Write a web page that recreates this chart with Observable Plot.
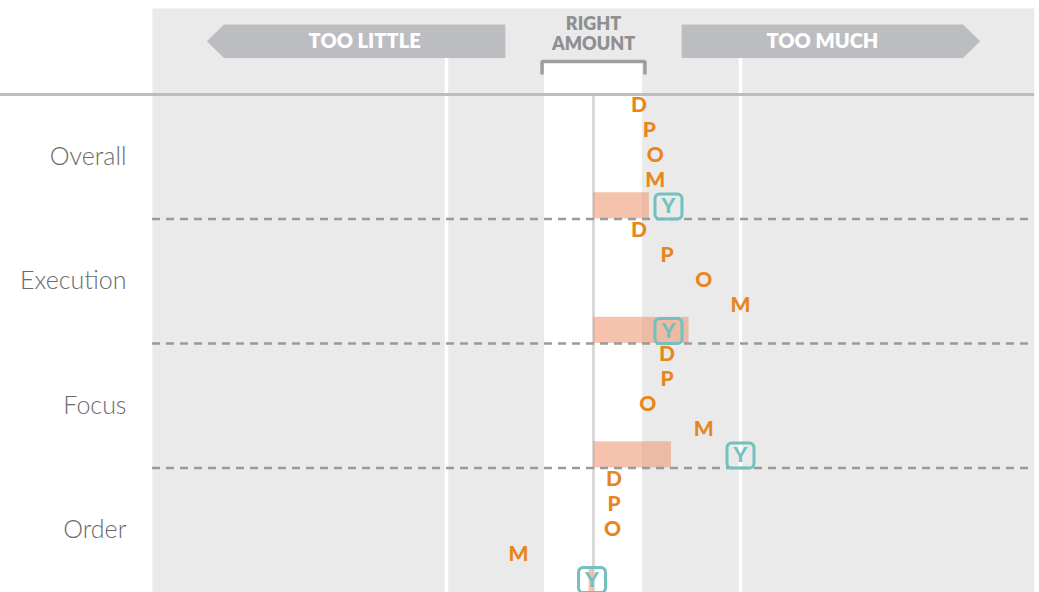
<!DOCTYPE html>
<html>
<head>
<meta charset="utf-8">
<script src="https://cdn.jsdelivr.net/npm/d3@7"></script>
<script src="https://cdn.jsdelivr.net/npm/@observablehq/plot@0.6"></script>
<style>
  body { margin: 0; background: #ffffff; }
  #chart svg { display: block; }
</style>
</head>
<body>
<div id="chart"></div>
<script>
// ---- Data ----
const categories = ["Overall", "Execution", "Focus", "Order"];
const respondents = ["D", "P", "O", "M"];
const valuesD = [0.31, 0.31, 0.50, 0.14];
const valuesP = [0.38, 0.50, 0.50, 0.14];
const valuesO = [0.42, 0.75, 0.37, 0.13];
const valuesM = [0.42, 1.00, 0.75, -0.51];
const valuesY = [0.51, 0.51, 1.00, -0.01];
const averageBar = [0.38, 0.65, 0.53, -0.03];
const zoneLabels = ["TOO LITTLE", "RIGHT", "AMOUNT", "TOO MUCH"];
const zoneFrom = [-2.63, -0.35, 0.60];
const zoneTo = [-0.60, 0.35, 2.63];
const guideTicks = [-1, 0, 1];
const rightBand = [-1 / 3, 1 / 3];

// ---- Build tables ----
const series = { D: valuesD, P: valuesP, O: valuesO, M: valuesM };
const letters = [];
categories.forEach((cat, i) => {
  respondents.forEach((who, k) => {
    letters.push({ cat, who, value: series[who][i], pos: i + (k + 0.45) / 5 });
  });
});
const you = categories.map((cat, i) => ({ cat, value: valuesY[i], pos: i + 0.9 }));
const bars = categories.map((cat, i) => ({ cat, value: averageBar[i], top: i + 0.79, bottom: i + 1 }));

// header geometry (in y units; 1 unit = one row)
const ARROW_TOP = -0.562, ARROW_BOT = -0.293, ARROW_MID = (ARROW_TOP + ARROW_BOT) / 2, HEAD = 0.116;
const arrows = [];
[[0, zoneLabels[0]], [2, zoneLabels[3]]].forEach(([z, label]) => {
  const a = zoneFrom[z], b = zoneTo[z];
  const pts = z === 0
    ? [[a, ARROW_MID], [a + HEAD, ARROW_TOP], [b, ARROW_TOP], [b, ARROW_BOT], [a + HEAD, ARROW_BOT], [a, ARROW_MID]]
    : [[a, ARROW_TOP], [b - HEAD, ARROW_TOP], [b, ARROW_MID], [b - HEAD, ARROW_BOT], [a, ARROW_BOT], [a, ARROW_TOP]];
  pts.forEach(([x, y]) => arrows.push({ label, x, y }));
});
const arrowLabels = [
  { label: zoneLabels[0], x: (zoneFrom[0] + HEAD + zoneTo[0]) / 2 },
  { label: zoneLabels[3], x: (zoneFrom[2] + zoneTo[2] - HEAD) / 2 }
];
const middleLabels = [
  { label: zoneLabels[1], y: -0.565 },
  { label: zoneLabels[2], y: -0.405 }
];
const bracket = [
  { x: zoneFrom[1], y: -0.16 }, { x: zoneFrom[1], y: -0.265 },
  { x: zoneTo[1], y: -0.265 }, { x: zoneTo[1], y: -0.16 }
];

const roundBox = {
  draw(ctx) {
    const w = 13.5, h = 12.5, r = 4.5;
    ctx.moveTo(-w + r, -h);
    ctx.arcTo(w, -h, w, h, r);
    ctx.arcTo(w, h, -w, h, r);
    ctx.arcTo(-w, h, -w, -h, r);
    ctx.arcTo(-w, -h, w, -h, r);
    ctx.closePath();
  }
};

const ORANGE = "#e8861e", TEAL = "#72c1be", PANEL = "#eaeaea", FONT = "Lato, 'Open Sans', sans-serif";

const chart = Plot.plot({
  width: 1039,
  height: 592,
  marginLeft: 152,
  marginRight: 5,
  marginTop: 8,
  marginBottom: 0,
  style: { fontFamily: FONT, background: "#ffffff" },
  x: { domain: [-3, 3], axis: null },
  y: { domain: [-0.69, 4], reverse: true, axis: null },
  marks: [
    Plot.frame({ fill: PANEL, stroke: null }),
    // right-amount white band
    Plot.rect([rightBand], { x1: d => d[0], x2: d => d[1], y1: -0.257, y2: 4, fill: "#ffffff" }),
    // too little / too much guide lines
    Plot.ruleX([guideTicks[0], guideTicks[2]], { y1: -0.297, y2: 4, stroke: "#ffffff", strokeWidth: 3.5 }),
    // center (right amount) line
    Plot.ruleX([guideTicks[1]], { y1: 0, y2: 4, stroke: "#d9d9d9", strokeWidth: 3 }),
    // top separator
    Plot.ruleY([0], { stroke: "#bcbdbf", strokeWidth: 3, insetLeft: -152 }),
    // average bars
    Plot.rect(bars, { x1: 0, x2: "value", y1: "top", y2: "bottom", fill: "#ee9a76", fillOpacity: 0.6 }),
    // row separators
    Plot.ruleY([1, 2, 3], { stroke: "#9a9a9c", strokeWidth: 2.5, strokeDasharray: "8,6" }),
    // header arrows
    Plot.line(arrows, { x: "x", y: "y", z: "label", fill: "#bcbdc0", stroke: null, curve: "linear" }),
    Plot.text(arrowLabels, { x: "x", y: ARROW_MID, text: "label", fill: "#ffffff", fontSize: 20, fontWeight: 800 }),
    Plot.text(middleLabels, { x: 0, y: "y", text: "label", fill: "#8e8f91", fontSize: 18, fontWeight: 800, letterSpacing: -0.2 }),
    Plot.line(bracket, { x: "x", y: "y", stroke: "#9d9ea0", strokeWidth: 3.5, strokeLinejoin: "miter", strokeLinecap: "butt" }),
    // row labels
    Plot.text(categories, { x: -3, y: (d, i) => i + 0.5, text: d => d, textAnchor: "end", dx: -26, fontSize: 25, fill: "#6a6b6e", fontWeight: 300, letterSpacing: 0.3 }),
    // respondent letters
    Plot.text(letters, { x: "value", y: "pos", text: "who", fill: ORANGE, fontSize: 21, fontWeight: 900 }),
    // Y boxes
    Plot.dot(you, { x: "value", y: "pos", symbol: roundBox, r: 10, stroke: TEAL, strokeWidth: 3, fill: "none" }),
    Plot.text(you, { x: "value", y: "pos", text: () => "Y", fill: TEAL, fontSize: 21, fontWeight: 900 })
  ]
});

document.getElementById("chart").appendChild(chart);
</script>
</body>
</html>
